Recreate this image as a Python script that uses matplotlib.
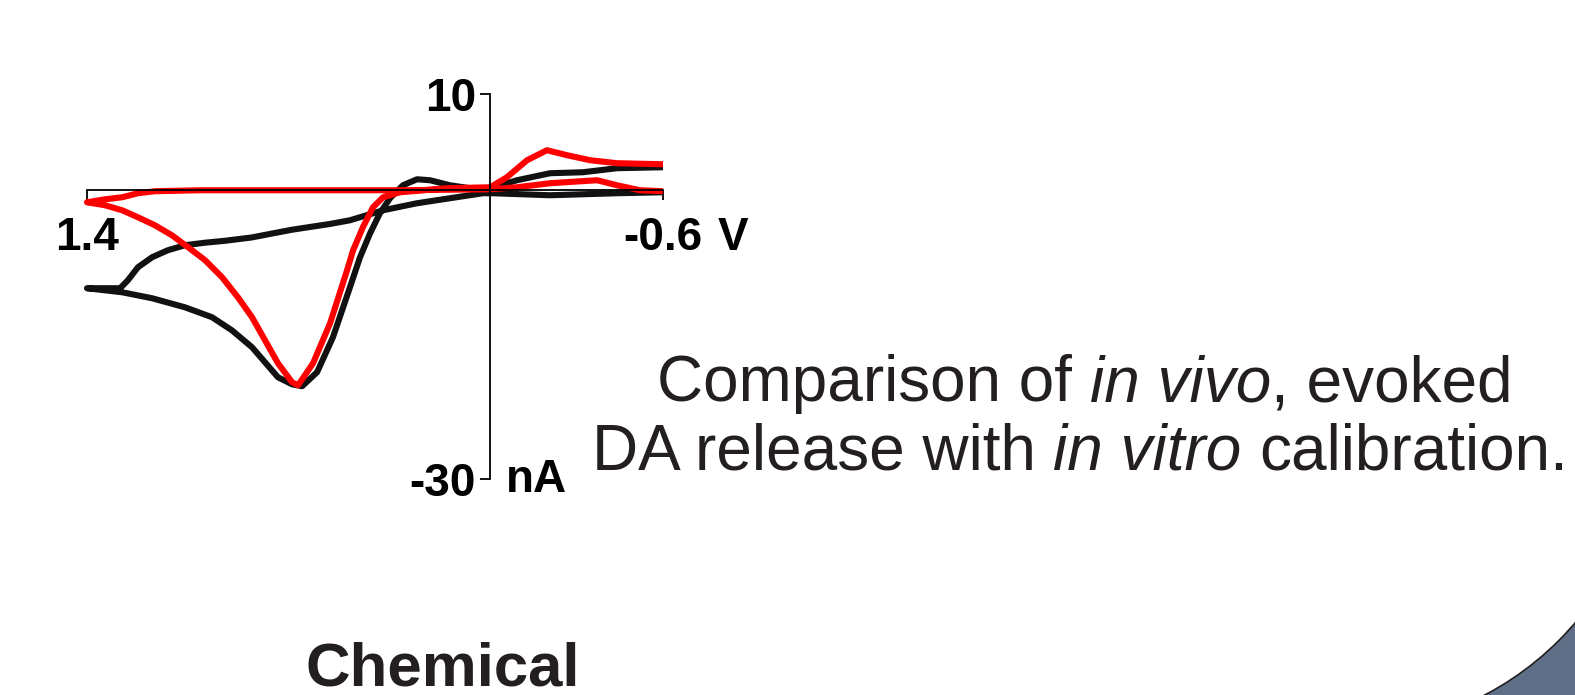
#!/usr/bin/env python3
"""Background-subtracted cyclic voltammograms: evoked DA in vivo vs. in vitro calibration."""

import matplotlib
matplotlib.use('Agg')
import matplotlib.pyplot as plt
from matplotlib.patches import Wedge

# Potential (V) and current (nA) around each voltammogram loop
VIVO_V = [-0.6, -0.44, -0.208, -0.01, 0.025, 0.14, 0.254, 0.372, 0.487, 0.556,
          0.688, 0.758, 0.827, 0.921, 0.99, 1.06, 1.119, 1.174, 1.223, 1.258,
          1.285, 1.40,
          1.278, 1.174, 1.06, 0.966, 0.897, 0.827, 0.782, 0.737, 0.688, 0.653,
          0.601, 0.546, 0.487, 0.452, 0.417, 0.383, 0.348, 0.303, 0.254, 0.209,
          0.14, 0.07, 0.0, -0.093, -0.208, -0.322, -0.44, -0.6]
VIVO_I = [-0.21, -0.31, -0.52, -0.31, -0.31, -0.83, -1.35, -2.08, -3.12, -3.50,
          -4.10, -4.50, -4.90, -5.25, -5.45, -5.71, -6.23, -6.96, -8.0, -9.35,
          -10.18, -10.18,
          -10.6, -11.22, -12.16, -13.19, -14.55, -16.31, -17.87, -19.43, -20.16, -20.36,
          -18.9, -15.27, -10.08, -6.96, -4.47, -2.39, -0.83, 0.52, 1.14, 1.04,
          0.52, 0.21, 0.21, 1.04, 1.77, 1.87, 2.29, 2.39]

VITRO_V = [-0.6, -0.52, -0.44, -0.371, -0.208, -0.093, 0.0, 0.313, 0.66, 1.008,
           1.164, 1.223, 1.278, 1.3375, 1.40,
           1.3375, 1.278, 1.223, 1.164, 1.105, 1.049, 0.99, 0.931, 0.876, 0.827,
           0.782, 0.737, 0.688, 0.667, 0.615, 0.556, 0.497, 0.476, 0.442, 0.407,
           0.372, 0.313, 0.15, 0.0, -0.058, -0.128, -0.197, -0.267, -0.347, -0.44,
           -0.6]
VITRO_I = [-0.1, 0.0, 0.52, 1.04, 0.73, 0.31, 0.1, 0.0, 0.0, 0.0,
           -0.10, -0.31, -0.73, -0.94, -1.25,
           -1.56, -2.08, -2.81, -3.64, -4.68, -5.92, -7.27, -9.04, -11.12, -13.19,
           -15.58, -17.97, -19.95, -20.26, -17.97, -13.82, -8.31, -6.23, -3.84, -1.77,
           -0.73, -0.21, 0.21, 0.31, 1.35, 3.12, 4.16, 3.64, 3.12, 2.81,
           2.70]

X_TICKS = [1.4, -0.6]
X_TICK_LABELS = ['1.4', '-0.6']
Y_TICKS = [10, -30]
Y_TICK_LABELS = ['10', '-30']

TEXT_COLOR = '#231f20'
BOLD_FONT = ['Liberation Sans', 'DejaVu Sans']
NARROW_FONT = ['Liberation Sans Narrow', 'Liberation Sans', 'DejaVu Sans']

W, H = 1575, 695


def centered_runs(fig, runs, xc, y_base, size):
    """Lay out mixed upright/italic runs on one line, centred at xc (pixels)."""
    renderer = fig.canvas.get_renderer()

    def width(s, style):
        t = fig.text(0, 0, s, fontsize=size, style=style, family=NARROW_FONT)
        w = t.get_window_extent(renderer).width
        t.remove()
        return w

    space = width('a a', 'normal') - width('aa', 'normal')
    pieces = []
    total = 0
    for s, style in runs:
        lead = len(s) - len(s.lstrip(' '))
        trail = len(s) - len(s.rstrip(' '))
        core = s.strip(' ')
        w = width(core, style)
        pieces.append((core, style, lead * space, w, trail * space))
        total += lead * space + w + trail * space

    x = xc - total / 2
    for core, style, lead, w, trail in pieces:
        x += lead
        fig.text(x / W, 1 - y_base / H, core, fontsize=size, style=style,
                 family=NARROW_FONT, color=TEXT_COLOR, va='baseline', ha='left')
        x += w + trail


def main():
    fig = plt.figure(figsize=(W / 100, H / 100), dpi=100)

    # page layer in pixel units (y down) for the corner swoosh
    bg = fig.add_axes([0, 0, 1, 1], zorder=0)
    bg.set_xlim(0, W)
    bg.set_ylim(H, 0)
    bg.axis('off')
    bg.add_patch(Wedge((1343, 425), 700, 0, 90, width=395,
                       facecolor='#5f6f87', edgecolor='#231f20', lw=1.2))

    ax = fig.add_axes([87 / W, (H - 479) / H, 576 / W, 385 / H], zorder=1)
    ax.patch.set_visible(False)
    ax.plot(VIVO_V, VIVO_I, color='#111111', lw=4.4, clip_on=False,
            solid_joinstyle='round', solid_capstyle='butt')
    ax.plot(VITRO_V, VITRO_I, color='#ff0000', lw=4.4, clip_on=False,
            solid_joinstyle='round', solid_capstyle='butt')

    ax.set_xlim(1.4, -0.6)
    ax.set_ylim(-30, 10)
    for side in ('top', 'right'):
        ax.spines[side].set_visible(False)
    ax.spines['left'].set_position(('data', 0))
    ax.spines['bottom'].set_position(('data', 0))
    for side in ('left', 'bottom'):
        ax.spines[side].set_linewidth(1.3)
        ax.spines[side].set_zorder(3)

    ax.set_xticks(X_TICKS)
    ax.set_xticklabels(X_TICK_LABELS)
    ax.set_yticks(Y_TICKS)
    ax.set_yticklabels(Y_TICK_LABELS)
    ax.tick_params(axis='x', direction='out', length=7.2, width=1.3, pad=11)
    ax.tick_params(axis='y', direction='out', length=7.2, width=1.3, pad=3)
    for lab in ax.get_xticklabels() + ax.get_yticklabels():
        lab.set_fontsize(33)
        lab.set_fontweight('bold')
        lab.set_family(BOLD_FONT)

    ax.annotate('V', xy=(-0.6, 0), xytext=(39.5, -43), textcoords='offset points',
                fontsize=33, fontweight='bold', family=BOLD_FONT,
                ha='left', va='baseline')
    ax.annotate('nA', xy=(0, -30), xytext=(11, -9.5), textcoords='offset points',
                fontsize=33, fontweight='bold', family=BOLD_FONT,
                ha='left', va='baseline')

    centered_runs(fig, [('Comparison of ', 'normal'), ('in vivo', 'italic'),
                        (', evoked', 'normal')], 1085, 401, 46)
    centered_runs(fig, [('DA release with ', 'normal'), ('in vitro', 'italic'),
                        (' calibration.', 'normal')], 1080, 470, 46)

    fig.text(305 / W, 1 - 685 / H, 'Chemical', fontsize=44.5, fontweight='bold',
             family=BOLD_FONT, color=TEXT_COLOR, ha='left', va='baseline')

    fig.savefig('out.png', dpi=100)


if __name__ == '__main__':
    main()
